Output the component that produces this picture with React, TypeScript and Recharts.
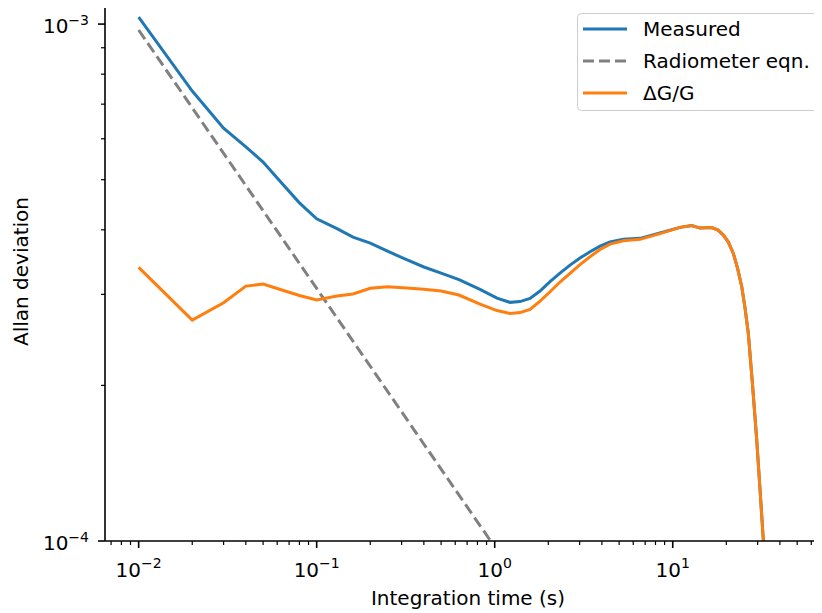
import React from 'react';
import { LineChart, Line, XAxis, YAxis, Legend } from 'recharts';

// ---- data ----
const tau = [0.01, 0.02, 0.03, 0.04, 0.05, 0.06, 0.08, 0.1, 0.13, 0.16, 0.2, 0.25, 0.32, 0.4, 0.5, 0.63,
  0.827, 1.03, 1.219, 1.387, 1.579, 1.797, 2.045, 2.327, 2.649, 3.014, 3.431, 3.904, 4.444, 5.279, 6.553,
  8.483, 10.99, 12.79, 14.23, 16.56, 17.97, 19.25, 20.53, 21.9, 23.12, 24.42, 25.48, 26.58, 28.08, 29.64, 30.94, 32.28, 33.43];

const measuredAdev = [1.032e-3, 7.42e-4, 6.29e-4, 5.79e-4, 5.41e-4, 5.04e-4, 4.51e-4, 4.2e-4, 4.021e-4, 3.872e-4, 3.77e-4, 3.636e-4, 3.501e-4, 3.389e-4, 3.297e-4, 3.204e-4,
  3.068e-4, 2.951e-4, 2.895e-4, 2.905e-4, 2.947e-4, 3.045e-4, 3.174e-4, 3.299e-4, 3.418e-4, 3.526e-4, 3.627e-4, 3.72e-4, 3.791e-4, 3.833e-4, 3.85e-4,
  3.942e-4, 4.043e-4, 4.076e-4, 4.03e-4, 4.039e-4, 3.994e-4, 3.907e-4, 3.787e-4, 3.6e-4, 3.373e-4, 3.104e-4, 2.822e-4, 2.522e-4, 2.003e-4, 1.568e-4, 1.255e-4, 1.0045e-4, 8.41e-5];

const gainAdev = [3.384e-4, 2.676e-4, 2.89e-4, 3.113e-4, 3.141e-4, 3.079e-4, 2.985e-4, 2.925e-4, 2.978e-4, 3.005e-4, 3.082e-4, 3.104e-4, 3.086e-4, 3.068e-4, 3.045e-4, 2.991e-4,
  2.873e-4, 2.791e-4, 2.756e-4, 2.766e-4, 2.806e-4, 2.912e-4, 3.035e-4, 3.17e-4, 3.295e-4, 3.426e-4, 3.548e-4, 3.663e-4, 3.753e-4, 3.808e-4, 3.833e-4,
  3.933e-4, 4.043e-4, 4.076e-4, 4.03e-4, 4.039e-4, 3.994e-4, 3.907e-4, 3.787e-4, 3.6e-4, 3.373e-4, 3.104e-4, 2.822e-4, 2.522e-4, 2.003e-4, 1.568e-4, 1.255e-4, 1.0045e-4, 8.41e-5];

const radiometerTau = [0.01, 0.1, 1.0, 2.0];
const radiometerAdev = [9.74e-4, 3.08e-4, 9.74e-5, 6.89e-5];

const xTicks = [0.007, 0.008, 0.009, 0.01, 0.02, 0.03, 0.04, 0.05, 0.06, 0.07, 0.08, 0.09, 0.1, 0.2, 0.3, 0.4, 0.5, 0.6, 0.7, 0.8, 0.9, 1, 2, 3, 4, 5, 6, 7, 8, 9, 10, 20, 30, 40, 50, 60, 70];
const yTicks = [1e-4, 2e-4, 3e-4, 4e-4, 5e-4, 6e-4, 7e-4, 8e-4, 9e-4, 1e-3];

const seriesNames = ['Measured', 'Radiometer eqn.', '\u0394G/G'];
const xLabel = 'Integration time (s)';
const yLabel = 'Allan deviation';

const xDomain = [0.006471, 77.45];
const yDomain = [1e-4, 1.1034e-3];

const zip = (xs: number[], ys: number[]) => xs.map((x, i) => ({ x, y: ys[i] }));
const measuredData = zip(tau, measuredAdev);
const gainData = zip(tau, gainAdev);
const radiometerData = zip(radiometerTau, radiometerAdev);

const FONT = '"DejaVu Sans", sans-serif';
const BLUE = '#1f77b4';
const ORANGE = '#ff7f0e';
const GRAY = '#808080';

const expInfo = (v: number) => {
  const l = Math.log10(v);
  const e = Math.round(l);
  return { e, major: Math.abs(l - e) < 1e-6 };
};
const expStr = (e: number) => (e < 0 ? '\u2212' + -e : String(e));

const XTick = (props: any) => {
  const { x, y, payload } = props;
  const { e, major } = expInfo(payload.value);
  return (
    <g>
      <line x1={x} x2={x} y1={y} y2={y + (major ? 7 : 4)} stroke="#000" strokeWidth={major ? 1.6 : 1.2} />
      {major && (
        <text x={x} y={y + 36} textAnchor="middle" fontSize={20} fontFamily={FONT} fill="#000">
          10<tspan dy={-9} fontSize={14}>{expStr(e)}</tspan>
        </text>
      )}
    </g>
  );
};

const YTick = (props: any) => {
  const { x, y, payload } = props;
  const { e, major } = expInfo(payload.value);
  return (
    <g>
      <line x1={x} x2={x - (major ? 7 : 4)} y1={y} y2={y} stroke="#000" strokeWidth={major ? 1.6 : 1.2} />
      {major && (
        <text x={x - 16} y={y + 9} textAnchor="end" fontSize={20} fontFamily={FONT} fill="#000">
          10<tspan dy={-8} fontSize={14}>{expStr(e)}</tspan>
        </text>
      )}
    </g>
  );
};

const XLabel = (props: any) => {
  const { viewBox } = props;
  return (
    <text x={viewBox.x + viewBox.width / 2} y={viewBox.y + 64} textAnchor="middle" fontSize={20} fontFamily={FONT} fill="#000">
      {xLabel}
    </text>
  );
};

const YLabel = (props: any) => {
  const { viewBox } = props;
  const cx = 28;
  const cy = viewBox.y + viewBox.height / 2;
  return (
    <text x={cx} y={cy} transform={`rotate(-90 ${cx} ${cy})`} textAnchor="middle" fontSize={20} fontFamily={FONT} fill="#000">
      {yLabel}
    </text>
  );
};

const renderLegend = () => {
  const rows = [
    { name: seriesNames[0], color: BLUE, dash: undefined },
    { name: seriesNames[1], color: GRAY, dash: '11 5' },
    { name: seriesNames[2], color: ORANGE, dash: undefined },
  ];
  return (
    <svg width={243} height={98} style={{ display: 'block' }}>
      <rect x={0.5} y={0.5} width={242} height={97} rx={4} ry={4} fill="rgba(255,255,255,0.8)" stroke="#cccccc" strokeWidth={1} />
      {rows.map((r, i) => (
        <g key={r.name}>
          <line x1={6} x2={50} y1={16 + i * 32} y2={16 + i * 32} stroke={r.color} strokeWidth={3} strokeDasharray={r.dash} />
          <text x={66} y={23 + i * 32} fontSize={20} fontFamily={FONT} fill="#000">
            {r.name}
          </text>
        </g>
      ))}
    </svg>
  );
};

export default function App() {
  return (
    <div style={{ position: 'relative', marginLeft: -8, marginTop: -8, width: 822, height: 613, overflow: 'hidden', background: '#fff' }}>
      <LineChart width={840} height={613} margin={{ top: 2, right: 9, left: 0, bottom: 0 }}>
        <XAxis
          xAxisId="b"
          dataKey="x"
          type="number"
          scale="log"
          domain={xDomain}
          allowDataOverflow
          ticks={xTicks}
          interval={0}
          tick={<XTick />}
          tickLine={false}
          tickSize={0}
          tickMargin={0}
          height={72}
          axisLine={{ stroke: '#000', strokeWidth: 1.6 }}
          label={<XLabel />}
        />
        <XAxis
          xAxisId="t"
          orientation="top"
          dataKey="x"
          type="number"
          scale="log"
          domain={xDomain}
          allowDataOverflow
          height={0}
          tick={false}
          tickLine={false}
          axisLine={{ stroke: '#000', strokeWidth: 1.6 }}
        />
        <YAxis
          yAxisId="l"
          type="number"
          scale="log"
          domain={yDomain}
          allowDataOverflow
          ticks={yTicks}
          interval={0}
          tick={<YTick />}
          tickLine={false}
          tickSize={0}
          tickMargin={0}
          width={105}
          axisLine={{ stroke: '#000', strokeWidth: 1.6 }}
          label={<YLabel />}
        />
        <Line
          xAxisId="b"
          yAxisId="l"
          data={measuredData}
          dataKey="y"
          name={seriesNames[0]}
          stroke={BLUE}
          strokeWidth={3}
          dot={false}
          type="linear"
          isAnimationActive={false}
        />
        <Line
          xAxisId="b"
          yAxisId="l"
          data={radiometerData}
          dataKey="y"
          name={seriesNames[1]}
          stroke={GRAY}
          strokeWidth={3}
          strokeDasharray="11 5"
          dot={false}
          type="linear"
          isAnimationActive={false}
        />
        <Line
          xAxisId="b"
          yAxisId="l"
          data={gainData}
          dataKey="y"
          name={seriesNames[2]}
          stroke={ORANGE}
          strokeWidth={3}
          dot={false}
          type="linear"
          isAnimationActive={false}
        />
        <Legend
          layout="horizontal"
          verticalAlign="middle"
          align="center"
          content={renderLegend}
          wrapperStyle={{ position: 'absolute', left: 577, top: 13, width: 243, height: 98 }}
        />
      </LineChart>
    </div>
  );
}
